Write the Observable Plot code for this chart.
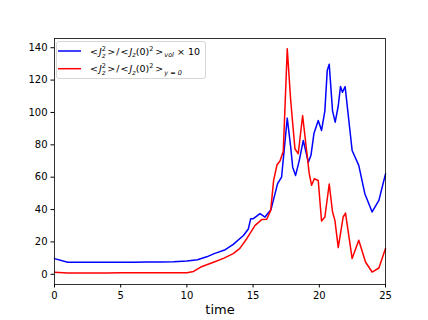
<!DOCTYPE html>
<html><head><meta charset="utf-8">
<script src="https://cdn.jsdelivr.net/npm/d3@7"></script>
<script src="https://cdn.jsdelivr.net/npm/@observablehq/plot@0.6"></script>
<style>body{margin:0;background:#fff}</style>
</head><body><div id="chart"></div>
<script>
const xTicks = [0, 5, 10, 15, 20, 25];
const yTicks = [0, 20, 40, 60, 80, 100, 120, 140];

const blueT = [0,1,2,3,4,5,6,7,8,9,10,10.8,11.5,12.06,12.9,13.5,14.27,14.64,14.82,15.02,15.52,15.9,16.35,16.6,16.85,17.15,17.58,17.84,17.99,18.21,18.49,18.79,19.17,19.37,19.6,19.92,20.17,20.42,20.6,20.75,21.0,21.2,21.43,21.6,21.75,21.95,22.48,22.98,23.44,23.99,24.5,25];
const blueV = [9.7,7.4,7.4,7.4,7.4,7.5,7.5,7.6,7.6,7.8,8.2,9.0,10.8,12.8,15.2,18.5,24,28,34.4,34.4,37.5,35.4,40,48,56,60,96.5,78.6,66.2,61.1,70.4,82.7,69.3,73.5,87.2,95,88.9,101,126,129.8,101,94,104,116,112.5,116,76.5,67.3,49.8,38.5,45.7,62];

const redT = [0,1,2,3,4,5,6,7,8,9,10,10.5,11.05,12.06,12.8,13.5,14.0,14.52,15.15,15.65,16.03,16.33,16.55,16.8,17.03,17.28,17.58,17.84,18.16,18.41,18.74,19.04,19.24,19.42,19.62,19.92,20.17,20.42,20.75,21.0,21.18,21.43,21.8,21.98,22.48,22.98,23.49,23.99,24.5,25];
const redV = [1.2,0.8,0.8,0.8,0.8,0.9,0.9,0.9,0.9,0.9,1.0,1.8,4.5,7.6,10,12.8,16,22,30.2,33.8,34,39.5,58,67.5,70,76,139.3,107.4,77.6,74.5,98.1,76.5,62.2,55,59,58,32.9,35.4,55.8,38.5,33.3,16.5,35.4,37.8,9.7,21,7.6,1.4,3.9,15.9];

const blueData = blueT.map((t, i) => ({t, v: blueV[i]}));
const redData = redT.map((t, i) => ({t, v: redV[i]}));

const svg = Plot.plot({
  width: 428, height: 320,
  marginLeft: 54, marginRight: 43, marginTop: 38, marginBottom: 36,
  style: {fontFamily: "DejaVu Sans", fontSize: "10px", color: "#000", background: "#fff", overflow: "visible"},
  x: {domain: [0, 25], label: null},
  y: {domain: [-6.3, 145.7], label: null},
  marks: [
    Plot.axisX({ticks: xTicks, tickSize: 3.5, tickPadding: 3.5, label: null, tickFormat: d => String(d)}),
    Plot.axisY({ticks: yTicks, tickSize: 3.5, tickPadding: 3.5, label: null, tickFormat: d => String(d)}),
    Plot.line(blueData, {x: "t", y: "v", stroke: "#0000ff", strokeWidth: 1.5}),
    Plot.line(redData, {x: "t", y: "v", stroke: "#ff0000", strokeWidth: 1.5}),
    Plot.frame({stroke: "#000", strokeWidth: 0.8}),
    Plot.text(["time"], {frameAnchor: "bottom", dy: 25, fontSize: 13, lineAnchor: "middle", text: d => d})
  ]
});
document.getElementById("chart").appendChild(svg);

// Legend
const s = d3.select(svg);
const lg = s.append("g").attr("font-family", "DejaVu Sans").attr("font-size", 9.5).attr("text-anchor", "start");
lg.append("rect").attr("x", 56.5).attr("y", 41.5).attr("width", 149).attr("height", 37)
  .attr("rx", 2.5).attr("fill", "#fff").attr("fill-opacity", 0.8).attr("stroke", "#cccccc").attr("stroke-width", 0.8);
const entries = [
  {color: "#0000ff", y: 51, sub: "vol", tail: " × 10"},
  {color: "#ff0000", y: 68.7, sub: "y = 0", tail: ""}
];
for (const e of entries) {
  lg.append("line").attr("x1", 58).attr("x2", 81).attr("y1", e.y).attr("y2", e.y)
    .attr("stroke", e.color).attr("stroke-width", 1.5);
  const t = lg.append("text").attr("x", 90).attr("y", e.y + 3.5).attr("fill", "#000").attr("text-anchor", "start");
  t.append("tspan").text("<");
  t.append("tspan").attr("font-style", "italic").attr("dx", 1).text("J");
  t.append("tspan").attr("font-size", 6.5).attr("dy", -4).text("2");
  t.append("tspan").attr("font-size", 6.5).attr("font-style", "italic").attr("dx", -4).attr("dy", 7).text("z");
  t.append("tspan").attr("dy", -3).attr("dx", 2).text(">");
  t.append("tspan").attr("dx", 1).text("/");
  t.append("tspan").attr("dx", 1).text("<");
  t.append("tspan").attr("font-style", "italic").attr("dx", 1).text("J");
  t.append("tspan").attr("font-size", 6.5).attr("font-style", "italic").attr("dy", 2.5).text("z");
  t.append("tspan").attr("dy", -2.5).text("(0)");
  t.append("tspan").attr("font-size", 6.5).attr("dy", -4).text("2");
  t.append("tspan").attr("dy", 4).attr("dx", 2).text(">");
  t.append("tspan").attr("font-size", 6.5).attr("dy", 2.5).attr("dx", 1).attr("font-style", "italic").text(e.sub);
  if (e.tail) t.append("tspan").attr("dy", -2.5).text(e.tail);
}
</script></body></html>
